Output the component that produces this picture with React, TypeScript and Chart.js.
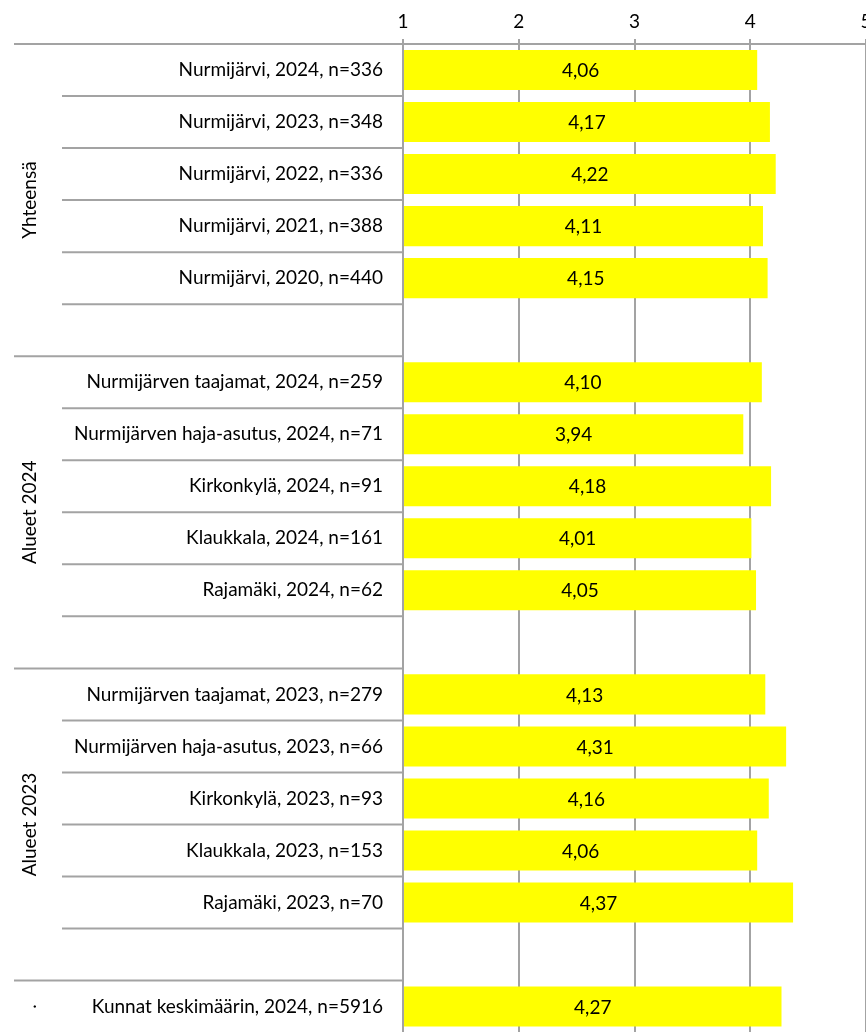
import React, { useEffect, useRef } from "react";
import { Chart, registerables } from "chart.js";

Chart.register(...registerables);

const categories: string[] = [
  "Nurmijärvi, 2024, n=336",
  "Nurmijärvi, 2023, n=348",
  "Nurmijärvi, 2022, n=336",
  "Nurmijärvi, 2021, n=388",
  "Nurmijärvi, 2020, n=440",
  "",
  "Nurmijärven taajamat, 2024, n=259",
  "Nurmijärven haja-asutus, 2024, n=71",
  "Kirkonkylä, 2024, n=91",
  "Klaukkala, 2024, n=161",
  "Rajamäki, 2024, n=62",
  "",
  "Nurmijärven taajamat, 2023, n=279",
  "Nurmijärven haja-asutus, 2023, n=66",
  "Kirkonkylä, 2023, n=93",
  "Klaukkala, 2023, n=153",
  "Rajamäki, 2023, n=70",
  "",
  "Kunnat keskimäärin, 2024, n=5916",
];

const values: (number | null)[] = [
  4.06, 4.17, 4.22, 4.11, 4.15, null,
  4.1, 3.94, 4.18, 4.01, 4.05, null,
  4.13, 4.31, 4.16, 4.06, 4.37, null,
  4.27,
];

const groupLabels: string[] = ["Yhteensä", "Alueet 2024", "Alueet 2023", "."];
const groupStarts: number[] = [0, 6, 12, 18];
const groupEnds: number[] = [5, 11, 17, 18];

const xMin = 1;
const xMax = 5;

const FONT = "Lato";
const GRID = "#a3a3a3";

const fmt = (v: number) => v.toFixed(2).replace(".", ",");

const separatorsPlugin = {
  id: "separators",
  afterDraw(chart: any) {
    const { ctx, chartArea } = chart;
    const y = chart.scales.y;
    const n = categories.length;
    const half = (y.getPixelForValue(1) - y.getPixelForValue(0)) / 2;
    ctx.save();
    ctx.strokeStyle = GRID;
    ctx.lineWidth = 2;
    for (let i = 0; i < n; i++) {
      const py = i === 0 ? y.getPixelForValue(0) - half : (y.getPixelForValue(i - 1) + y.getPixelForValue(i)) / 2;
      const isGroup = groupStarts.includes(i);
      const x0 = isGroup ? 14 : 62;
      ctx.beginPath();
      ctx.moveTo(x0, py);
      ctx.lineTo(chartArea.left, py);
      ctx.stroke();
    }
    ctx.fillStyle = "#000";
    ctx.font = `19px ${FONT}`;
    ctx.textAlign = "center";
    ctx.textBaseline = "middle";
    for (let g = 0; g < groupLabels.length; g++) {
      const top = y.getPixelForValue(groupStarts[g]) - half;
      const bot = y.getPixelForValue(groupEnds[g]) + half;
      const cy = (top + bot) / 2;
      ctx.save();
      ctx.translate(30, cy);
      ctx.rotate(-Math.PI / 2);
      ctx.fillText(groupLabels[g], 0, 0);
      ctx.restore();
    }
    ctx.restore();
  },
};

const valueLabelsPlugin = {
  id: "valueLabels",
  afterDatasetsDraw(chart: any) {
    const { ctx } = chart;
    const meta = chart.getDatasetMeta(0);
    ctx.save();
    ctx.fillStyle = "#000";
    ctx.font = `19px ${FONT}`;
    ctx.textAlign = "center";
    ctx.textBaseline = "middle";
    meta.data.forEach((el: any, i: number) => {
      const v = values[i];
      if (v == null) return;
      ctx.fillText(fmt(v), (el.x + el.base) / 2, el.y + 1);
    });
    ctx.restore();
  },
};

export default function App() {
  const ref = useRef<HTMLCanvasElement>(null);
  useEffect(() => {
    document.body.style.margin = "0";
    document.body.style.overflow = "hidden";
    const chart = new Chart(ref.current!, {
      type: "bar",
      data: {
        labels: categories,
        datasets: [
          {
            data: values as any,
            base: 1,
            backgroundColor: "#ffff00",
            borderWidth: 0,
            categoryPercentage: 1,
            barPercentage: 0.77,
          } as any,
        ],
      },
      plugins: [separatorsPlugin, valueLabelsPlugin],
      options: {
        indexAxis: "y",
        responsive: false,
        animation: false,
        devicePixelRatio: 1,
        layout: { padding: { left: 0, right: 34, top: 0, bottom: 0 } },
        plugins: { legend: { display: false }, tooltip: { enabled: false } },
        scales: {
          x: {
            position: "top",
            min: xMin,
            max: xMax,
            ticks: { stepSize: 1, color: "#000", font: { family: FONT, size: 19 }, padding: 6 },
            grid: { color: GRID, lineWidth: 2, tickLength: 5 },
            border: { color: GRID, width: 2 },
            afterFit: (s: any) => {
              s.height = 44;
            },
          },
          y: {
            ticks: { color: "#000", font: { family: FONT, size: 19 }, padding: 12, autoSkip: false },
            grid: { display: false },
            border: { display: true, color: GRID, width: 2 },
            afterFit: (s: any) => {
              s.width = 403;
            },
          },
        },
      } as any,
    });
    return () => chart.destroy();
  }, []);
  return (
    <div style={{ position: "absolute", left: 0, top: 0, width: 866, height: 1032, overflow: "hidden" }}>
      <canvas ref={ref} width={900} height={1056} style={{ display: "block" }} />
    </div>
  );
}
